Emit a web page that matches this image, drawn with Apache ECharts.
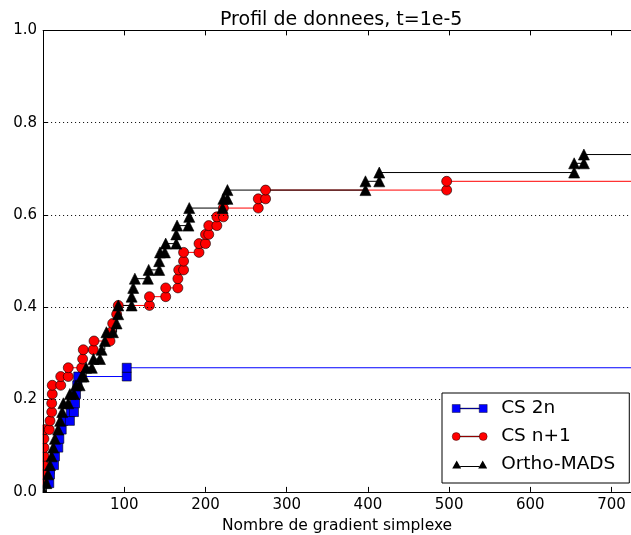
<!DOCTYPE html>
<html>
<head>
<meta charset="utf-8">
<script src="https://cdn.jsdelivr.net/npm/echarts@6/dist/echarts.min.js"></script>
<style>
html,body{margin:0;padding:0;background:#fff;}
#chart{width:631px;height:535px;}
</style>
</head>
<body>
<div id="chart"></div>
<script>
// ---- data ----
const titleText = "Profil de donnees, t=1e-5";
const xAxisName = "Nombre de gradient simplexe";
const seriesNames = ["CS 2n", "CS n+1", "Ortho-MADS"];
const xTicks = [100, 200, 300, 400, 500, 600, 700];
const yTicks = [0.0, 0.2, 0.4, 0.6, 0.8, 1.0];

const cs2nX = [7.6, 8.5, 13.4, 14.6, 18.7, 20, 22.9, 24.9, 33, 34, 38, 39.3, 40.5, 42, 43.3, 103, 103, 760];
const cs2nY = [0.019, 0.038, 0.058, 0.077, 0.096, 0.115, 0.135, 0.154, 0.154, 0.173, 0.173, 0.192, 0.212, 0.231, 0.25, 0.25, 0.269, 0.269];

const csn1X = [1, 1, 1, 1, 1, 1, 2, 7.6, 8.5, 10.6, 10.6, 11.3, 11.3, 21.7, 21.7, 31, 31, 47.5, 48.7, 49.5, 61.8, 62.7, 82.4, 83.6, 85.7, 90.6, 92.6, 131, 131, 151, 151, 166, 166, 167, 173, 173, 173, 192, 192, 200, 200, 204, 204, 214, 214, 222, 222, 265, 265, 274, 274, 497, 497, 760];
const csn1Y = [0.019, 0.038, 0.058, 0.077, 0.096, 0.115, 0.135, 0.135, 0.154, 0.173, 0.192, 0.212, 0.231, 0.231, 0.25, 0.25, 0.269, 0.269, 0.288, 0.308, 0.308, 0.327, 0.327, 0.346, 0.365, 0.385, 0.404, 0.404, 0.423, 0.423, 0.442, 0.442, 0.462, 0.481, 0.481, 0.5, 0.519, 0.519, 0.538, 0.538, 0.558, 0.558, 0.577, 0.577, 0.596, 0.596, 0.615, 0.615, 0.635, 0.635, 0.654, 0.654, 0.673, 0.673];

const orthoX = [1, 4, 6, 8.5, 10.5, 12.5, 14.5, 18.5, 21, 23.5, 25, 31, 33, 38, 40.5, 45, 47.5, 50, 53, 60, 62, 70, 72, 76, 78, 86, 90.5, 92.5, 92.6, 109, 109, 111, 113, 129, 130, 143, 143, 144, 150, 151, 164, 164, 165, 179, 180, 180, 221, 222, 227, 227, 397, 397, 414, 414, 654, 654, 666, 666, 760];
const orthoY = [0.0, 0.019, 0.038, 0.058, 0.077, 0.096, 0.115, 0.135, 0.154, 0.173, 0.192, 0.192, 0.212, 0.212, 0.231, 0.231, 0.25, 0.25, 0.269, 0.269, 0.288, 0.288, 0.308, 0.327, 0.346, 0.346, 0.365, 0.385, 0.404, 0.404, 0.423, 0.442, 0.462, 0.462, 0.481, 0.481, 0.5, 0.519, 0.519, 0.538, 0.538, 0.558, 0.577, 0.577, 0.596, 0.615, 0.615, 0.635, 0.635, 0.654, 0.654, 0.673, 0.673, 0.692, 0.692, 0.712, 0.712, 0.731, 0.731];

// ---- build ----
function pairs(xs, ys) { return xs.map((x, i) => [x, ys[i]]); }

const FONT = "DejaVu Sans";
const chart = echarts.init(document.getElementById('chart'), null, {renderer: 'canvas'});

const iconSquare = 'path://M0,0H8V8H0Z M8,3.6H27V4.4H8Z M27,0H35V8H27Z';
const iconCircle = 'path://M4,0A4,4 0 1 1 4,8A4,4 0 1 1 4,0Z M8,3.6H27V4.4H8Z M31,0A4,4 0 1 1 31,8A4,4 0 1 1 31,0Z';
const iconTri = 'path://M0,8L4.5,0L9,8Z M8,5.6H27V6.4H8Z M26,8L30.5,0L35,8Z';

const option = {
  animation: false,
  backgroundColor: '#fff',
  title: {
    text: titleText,
    left: 215,
    top: 6,
    textStyle: {fontFamily: FONT, fontSize: 19, fontWeight: 'normal', color: '#000'}
  },
  grid: {left: 43.1, right: 0, top: 30.4, bottom: 43.1, containLabel: false, outerBoundsMode: 'none'},
  legend: {
    orient: 'vertical',
    left: 442,
    top: 393,
    z: 20,
    padding: [6, 14, 9, 10],
    itemGap: 9,
    itemWidth: 35,
    itemHeight: 9,
    backgroundColor: '#fff',
    borderColor: '#000',
    borderWidth: 1,
    borderRadius: 0,
    textStyle: {fontFamily: FONT, fontSize: 18.5, color: '#000', padding: [0, 0, 0, 9]},
    data: [
      {name: seriesNames[0], icon: iconSquare, itemStyle: {color: '#0000ff', borderColor: '#000', borderWidth: 0.4}},
      {name: seriesNames[1], icon: iconCircle, itemStyle: {color: '#ff0000', borderColor: '#000', borderWidth: 0.4}},
      {name: seriesNames[2], icon: iconTri, itemStyle: {color: '#000', borderColor: '#000', borderWidth: 0}}
    ]
  },
  xAxis: [{
    type: 'value',
    z: 10,
    min: 0, max: 724,
    interval: 100,
    name: xAxisName,
    nameLocation: 'middle',
    nameGap: 24,
    nameTextStyle: {fontFamily: FONT, fontSize: 15.5, color: '#000'},
    axisLine: {lineStyle: {color: '#000', width: 1}},
    axisTick: {inside: true, length: 5, lineStyle: {color: '#000'}},
    axisLabel: {
      fontFamily: FONT, fontSize: 15, color: '#000', margin: 6,
      formatter: v => (xTicks.indexOf(v) >= 0 ? String(v) : '')
    },
    splitLine: {show: false}
  }, {
    type: 'value',
    z: 10,
    position: 'top',
    min: 0, max: 724,
    interval: 100,
    axisLine: {lineStyle: {color: '#000', width: 1}},
    axisTick: {inside: true, length: 5, lineStyle: {color: '#000'}},
    axisLabel: {show: false},
    splitLine: {show: false}
  }],
  yAxis: {
    type: 'value',
    z: 10,
    min: 0, max: 1, interval: 0.2,
    axisLine: {show: true, lineStyle: {color: '#000', width: 1}},
    axisTick: {show: true, inside: true, length: 5, lineStyle: {color: '#000'}},
    axisLabel: {
      fontFamily: FONT, fontSize: 15, color: '#000', margin: 6,
      formatter: v => v.toFixed(1)
    },
    splitLine: {show: true, lineStyle: {color: '#000', type: [1, 3], width: 1}}
  },
  series: [
    {
      name: seriesNames[0], type: 'line', step: 'end',
      data: pairs(cs2nX, cs2nY),
      symbol: 'rect', symbolSize: 9,
      itemStyle: {color: '#0000ff', borderColor: '#000', borderWidth: 0.6},
      lineStyle: {color: '#0000ff', width: 1},
      clip: true, z: 2
    },
    {
      name: seriesNames[1], type: 'line', step: 'end',
      data: pairs(csn1X, csn1Y),
      symbol: 'circle', symbolSize: 10,
      itemStyle: {color: '#ff0000', borderColor: '#000', borderWidth: 0.6},
      lineStyle: {color: '#ff0000', width: 1},
      clip: true, z: 2
    },
    {
      name: seriesNames[2], type: 'line', step: 'end',
      data: pairs(orthoX, orthoY),
      symbol: 'triangle', symbolSize: 11,
      itemStyle: {color: '#000', borderColor: '#000', borderWidth: 0.6},
      lineStyle: {color: '#000', width: 1},
      clip: true, z: 2
    }
  ]
};
chart.setOption(option);

// white masks outside the plot area, so that markers are clipped like in the reference
const r = chart.getModel().getComponent('grid', 0).coordinateSystem.getRect();
chart.setOption({
  graphic: [
    {type: 'rect', z: 5, shape: {x: 0, y: 0, width: r.x - 0.5, height: 535}, style: {fill: '#fff'}},
    {type: 'rect', z: 5, shape: {x: 0, y: r.y + r.height + 0.5, width: 631, height: 60}, style: {fill: '#fff'}}
  ]
});
</script>
</body>
</html>
